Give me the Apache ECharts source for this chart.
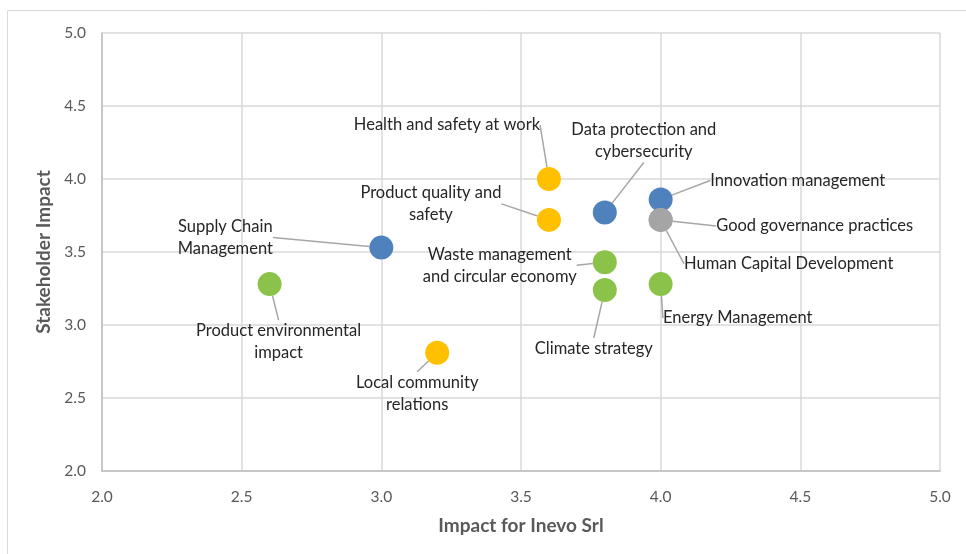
<!DOCTYPE html>
<html>
<head>
<meta charset="utf-8">
<script src="https://cdn.jsdelivr.net/npm/echarts@6/dist/echarts.min.js"></script>
<style>
html,body{margin:0;padding:0;background:#fff;}
#chart{width:966px;height:554px;}
</style>
</head>
<body>
<div id="chart"></div>
<script>
// ---- data ----
var blueNames   = ['Supply Chain\nManagement', 'Data protection and\ncybersecurity', 'Innovation management'];
var blueX       = [3.0, 3.8, 4.0];
var blueY       = [3.53, 3.77, 3.86];

var yellowNames = ['Health and safety at work', 'Product quality and\nsafety', 'Local community\nrelations'];
var yellowX     = [3.6, 3.6, 3.2];
var yellowY     = [4.0, 3.72, 2.81];

var greenNames  = ['Product environmental\nimpact', 'Waste management\nand circular economy', 'Climate strategy', 'Energy Management'];
var greenX      = [2.6, 3.8, 3.8, 4.0];
var greenY      = [3.28, 3.43, 3.24, 3.28];

var grayNames   = ['Human Capital Development', 'Good governance practices'];
var grayX       = [4.0, 4.0];
var grayY       = [3.72, 3.72];

var xTicks = [2.0, 2.5, 3.0, 3.5, 4.0, 4.5, 5.0];
var yTicks = [2.0, 2.5, 3.0, 3.5, 4.0, 4.5, 5.0];

// label offsets (label centre relative to marker centre, px)
var labelOffsets = {
  'Supply Chain\nManagement': [-156, -10],
  'Data protection and\ncybersecurity': [39, -72],
  'Innovation management': [137, -19],
  'Health and safety at work': [-102, -54],
  'Product quality and\nsafety': [-118, -16],
  'Local community\nrelations': [-20, 41],
  'Product environmental\nimpact': [9, 58],
  'Waste management\nand circular economy': [-105, 3],
  'Climate strategy': [-11, 59],
  'Energy Management': [77, 34],
  'Human Capital Development': [128, 44],
  'Good governance practices': [154, 6]
};

function build(names, xs, ys) {
  return names.map(function (n, i) { return { name: n, value: [xs[i], ys[i]] }; });
}

function mkSeries(names, xs, ys, color) {
  return {
    type: 'scatter',
    symbolSize: 24,
    itemStyle: { color: color, opacity: 1 },
    data: build(names, xs, ys),
    label: {
      show: true,
      position: 'inside',
      formatter: function (p) { return p.name; },
      color: '#262626',
      fontFamily: 'Lato',
      fontSize: 16.5,
      lineHeight: 22,
      align: 'center'
    },
    labelLine: { show: true, lineStyle: { color: '#a6a6a6', width: 1.5 } },
    labelLayout: function (p) {
      var name = p.text;
      var off = labelOffsets[name] || [0, 0];
      return { dx: off[0], dy: off[1] };
    },
    emphasis: { disabled: true }
  };
}

var chart = echarts.init(document.getElementById('chart'), null, { renderer: 'canvas' });
var axisLabelStyle = { color: '#595959', fontFamily: 'Lato', fontSize: 15.5 };
var nameStyle = { color: '#595959', fontFamily: 'Lato', fontSize: 19, fontWeight: 'bold' };
var option = {
  backgroundColor: '#fff',
  animation: false,
  graphic: [{
    type: 'rect',
    shape: { x: 7.5, y: 10.5, width: 980, height: 580 },
    style: { fill: 'none', stroke: '#d9d9d9', lineWidth: 1 },
    silent: true, z: -10
  }],
  grid: { left: 102, right: 26, top: 33, bottom: 83 },
  xAxis: {
    type: 'value', min: 2, max: 5, interval: 0.5,
    name: 'Impact for Inevo Srl', nameLocation: 'middle', nameGap: 45,
    nameTextStyle: nameStyle,
    axisLine: { show: true, lineStyle: { color: '#bfbfbf', width: 1.5 } },
    axisTick: { show: false },
    axisLabel: Object.assign({ margin: 18, formatter: function (v) { return v.toFixed(1); } }, axisLabelStyle),
    splitLine: { show: true, lineStyle: { color: '#d9d9d9', width: 1.5 } }
  },
  yAxis: {
    type: 'value', min: 2, max: 5, interval: 0.5,
    name: 'Stakeholder Impact', nameLocation: 'middle', nameGap: 46,
    nameTextStyle: nameStyle,
    axisLine: { show: true, lineStyle: { color: '#bfbfbf', width: 1.5 } },
    axisTick: { show: false },
    axisLabel: Object.assign({ margin: 16, formatter: function (v) { return v.toFixed(1); } }, axisLabelStyle),
    splitLine: { show: true, lineStyle: { color: '#d9d9d9', width: 1.5 } }
  },
  series: [
    mkSeries(yellowNames, yellowX, yellowY, '#FFC000'),
    mkSeries(greenNames, greenX, greenY, '#8BC34A'),
    mkSeries(blueNames, blueX, blueY, '#4F81BD'),
    mkSeries(grayNames, grayX, grayY, '#A5A5A5')
  ]
};
chart.setOption(option);
</script>
</body>
</html>
